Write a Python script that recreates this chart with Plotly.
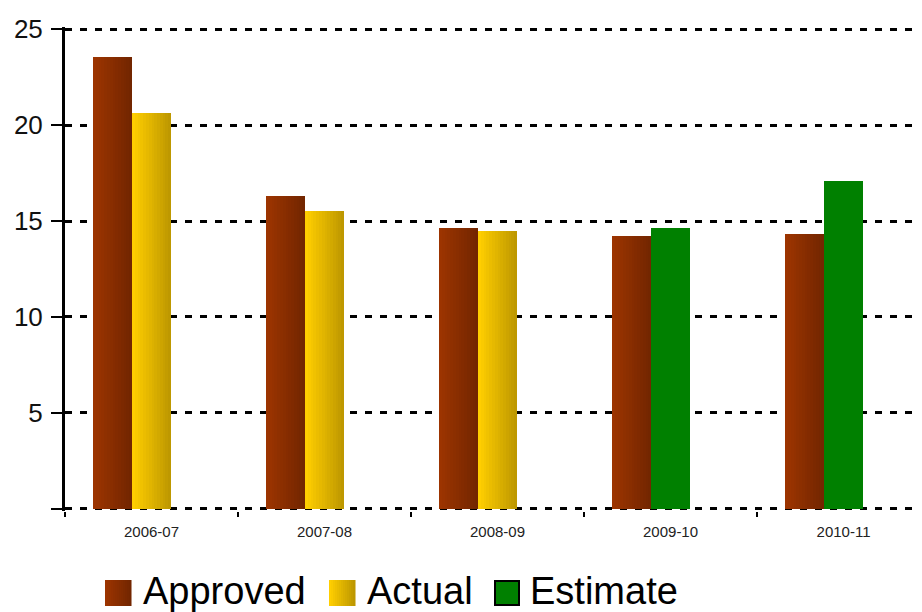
import plotly.graph_objects as go

# ---- data ----
categories = ["2006-07", "2007-08", "2008-09", "2009-10", "2010-11"]
approved = [23.55, 16.3, 14.65, 14.2, 14.3]
actual = [20.65, 15.5, 14.5, None, None]
estimate = [None, None, None, 14.65, 17.1]
y_tick_vals = [0, 5, 10, 15, 20, 25]
y_tick_text = ["", "5", "10", "15", "20", "25"]
legend_labels = ["Approved", "Actual", "Estimate"]

# ---- style ----
FONT = "Arial, Liberation Sans, sans-serif"
APPROVED_L, APPROVED_R = (156, 52, 0), (115, 38, 0)
ACTUAL_L, ACTUAL_R = (255, 206, 0), (190, 152, 0)
ESTIMATE_C = "#008000"
N = 14          # gradient strips
BW = 0.225      # bar width (category units)
EXT = 0.12      # small range extension so the 0 and 25 gridlines are drawn

W, H = 922, 612
PXU = 19.2      # pixels per y unit
ML, MR = 65, 7
MT = round(29 - EXT * PXU)
MB = round(103 - EXT * PXU)
PW, PH = W - ML - MR, H - MT - MB


def lerp(c1, c2, t):
    return "rgb(%d,%d,%d)" % tuple(round(a + (b - a) * t) for a, b in zip(c1, c2))


fig = go.Figure()


def add_gradient_bars(y, offset, cl, cr):
    for i in range(N):
        t = i / (N - 1)
        fig.add_trace(go.Bar(
            x=categories, y=y, offset=offset + i * BW / N, width=BW / N,
            marker=dict(color=lerp(cl, cr, t), line=dict(width=0)),
            showlegend=False, hoverinfo="skip"))


add_gradient_bars(approved, -1.5 * BW, APPROVED_L, APPROVED_R)
add_gradient_bars(actual, -0.5 * BW, ACTUAL_L, ACTUAL_R)
fig.add_trace(go.Bar(
    x=categories, y=estimate, offset=-0.5 * BW, width=BW,
    marker=dict(color=ESTIMATE_C, line=dict(width=0)),
    showlegend=False, name="Estimate"))


# ---- manual legend (large swatches) ----
def px2x(px):
    return (px - ML) / PW


def py2y(py):
    return (MT + PH - py) / PH


shapes = []
annotations = []
legend_items = [
    (legend_labels[0], 105, 143, ("grad", APPROVED_L, APPROVED_R)),
    (legend_labels[1], 329, 367, ("grad", ACTUAL_L, ACTUAL_R)),
    (legend_labels[2], 494, 530, ("solid", ESTIMATE_C)),
]
SW = 26
top, bot = 580, 606
for label, sx, tx, fill in legend_items:
    if fill[0] == "grad":
        n = 13
        for i in range(n):
            x0 = sx + SW * i / n
            x1 = sx + SW * (i + 1) / n
            shapes.append(dict(type="rect", xref="paper", yref="paper",
                               x0=px2x(x0), x1=px2x(x1) + 0.0006,
                               y0=py2y(bot), y1=py2y(top),
                               fillcolor=lerp(fill[1], fill[2], i / (n - 1)),
                               line=dict(width=0), layer="above"))
    else:
        shapes.append(dict(type="rect", xref="paper", yref="paper",
                           x0=px2x(sx + 1), x1=px2x(sx + SW - 1),
                           y0=py2y(bot - 1), y1=py2y(top + 1),
                           fillcolor=fill[1],
                           line=dict(width=2, color="black"), layer="above"))
    annotations.append(dict(text=label, xref="paper", yref="paper",
                            x=px2x(tx - 2), y=py2y(591), xanchor="left",
                            yanchor="middle", showarrow=False,
                            font=dict(family=FONT, size=38, color="black")))

fig.update_layout(
    width=W, height=H,
    margin=dict(l=ML, r=MR, t=MT, b=MB, pad=0),
    paper_bgcolor="white", plot_bgcolor="white",
    barmode="overlay", bargap=0,
    showlegend=False,
    shapes=shapes, annotations=annotations,
    xaxis=dict(type="category", range=[-0.5, 4.413],
               showgrid=False, showline=False, zeroline=False,
               ticks="outside", tickson="boundaries", ticklen=5,
               tickwidth=2, tickcolor="black", ticklabelstandoff=10,
               tickfont=dict(family=FONT, size=15, color="#222")),
    yaxis=dict(range=[-EXT, 25 + EXT], tickvals=y_tick_vals,
               ticktext=y_tick_text,
               showgrid=True, gridcolor="black", gridwidth=3,
               griddash="7px,8px",
               showline=True, linecolor="black", linewidth=3,
               zeroline=False,
               ticks="outside", ticklen=11, tickwidth=2, tickcolor="black",
               ticklabelstandoff=3,
               tickfont=dict(family=FONT, size=26, color="#111")),
)

fig.write_html("out.html")
